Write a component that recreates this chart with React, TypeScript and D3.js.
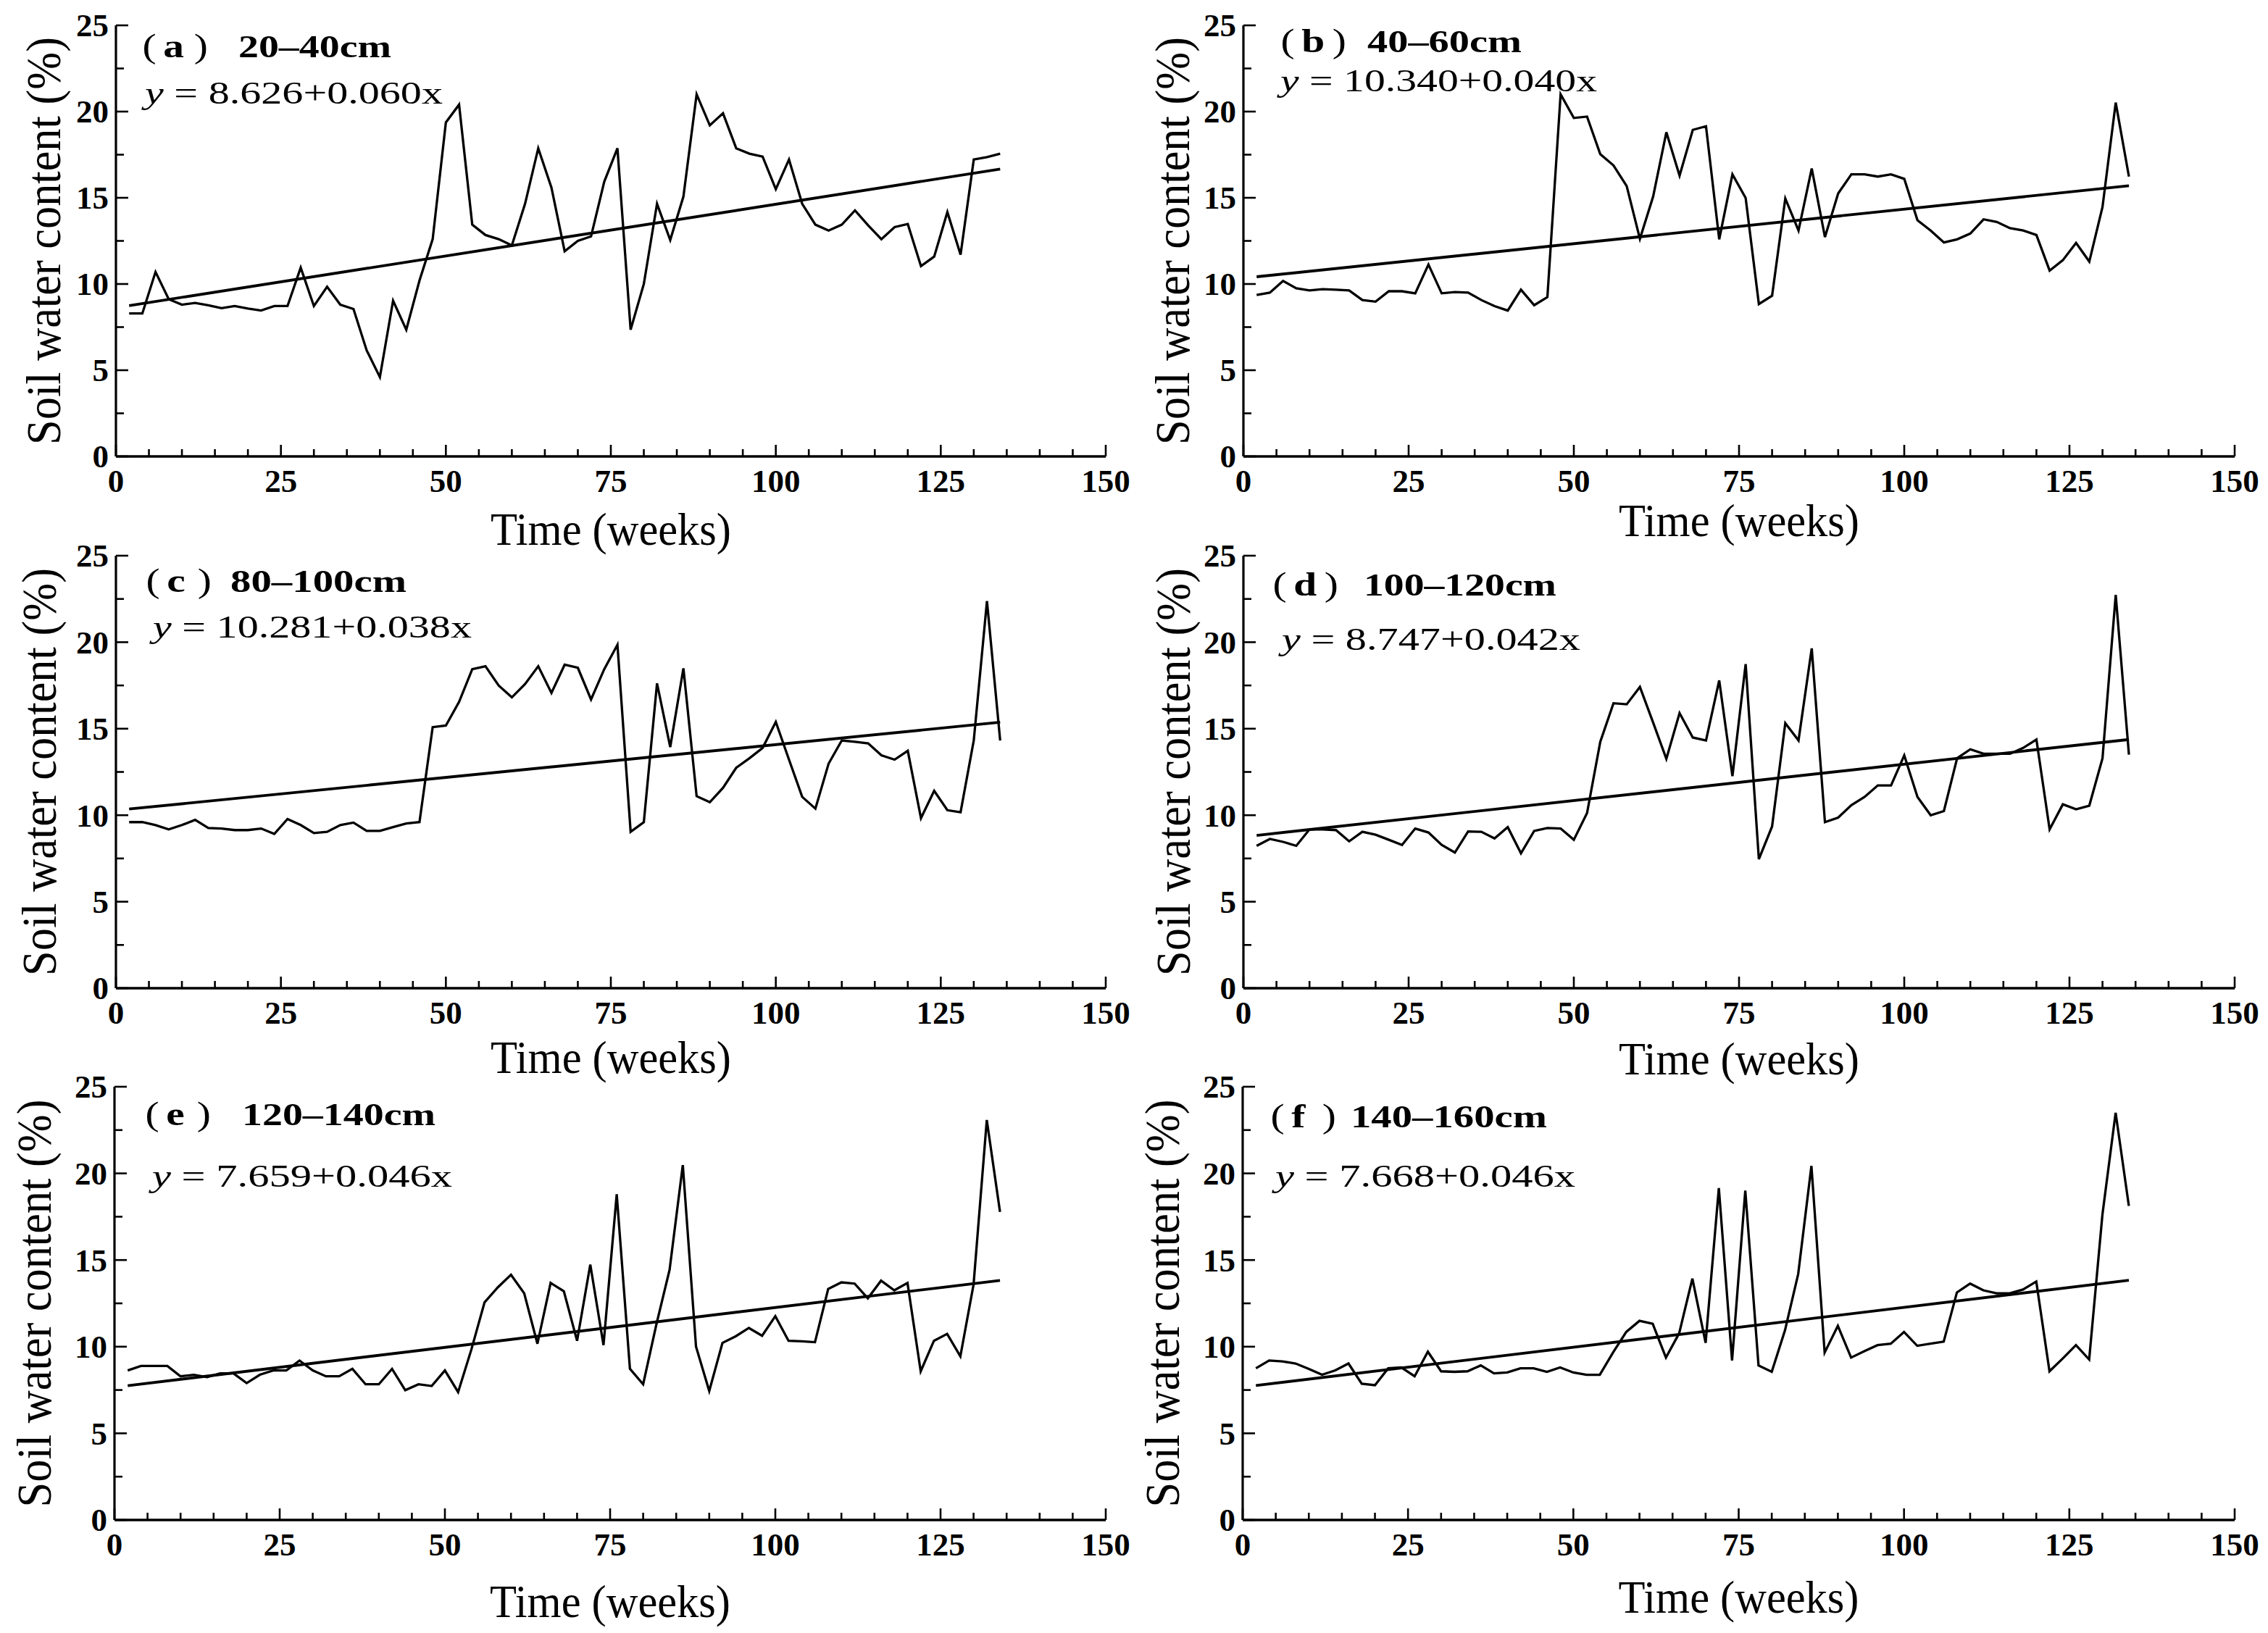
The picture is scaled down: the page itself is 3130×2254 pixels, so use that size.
import { useEffect } from 'react';
import * as d3 from 'd3';

// weekly sampling (weeks since start)
const weeks = [
  2, 4, 6, 8, 10, 12, 14, 16, 18, 20, 22, 24, 26, 28, 30, 32, 34, 36, 38, 40,
  42, 44, 46, 48, 50, 52, 54, 56, 58, 60, 62, 64, 66, 68, 70, 72, 74, 76, 78, 80,
  82, 84, 86, 88, 90, 92, 94, 96, 98, 100, 102, 104, 106, 108, 110, 112, 114, 116, 118, 120,
  122, 124, 126, 128, 130, 132, 134,
];

const swc20_40 = [
  8.29, 8.29, 10.7, 9.12, 8.8, 8.9, 8.77, 8.6, 8.72, 8.58, 8.46, 8.72, 8.72, 10.95, 8.72, 9.84, 8.8, 8.55, 6.15, 4.6,
  9.03, 7.35, 10.2, 12.6, 19.37, 20.4, 13.44, 12.84, 12.6, 12.24, 14.65, 17.87, 15.59, 11.9, 12.5, 12.76, 15.93, 17.87, 7.35, 10.0,
  14.65, 12.55, 15.07, 21.0, 19.2, 19.9, 17.87, 17.56, 17.39, 15.5, 17.22, 14.65, 13.44, 13.1, 13.44, 14.27, 13.4, 12.6, 13.3, 13.48,
  11.04, 11.59, 14.17, 11.7, 17.22, 17.36, 17.56,
];
const swc40_60 = [
  9.36, 9.5, 10.18, 9.75, 9.63, 9.7, 9.67, 9.63, 9.07, 8.98, 9.58, 9.58, 9.46, 11.13, 9.46, 9.53, 9.5, 9.07, 8.72, 8.46,
  9.67, 8.77, 9.24, 21.0, 19.63, 19.71, 17.53, 16.88, 15.68, 12.62, 15.07, 18.8, 16.28, 18.94, 19.15, 12.59, 16.36, 14.99, 8.84, 9.32,
  14.96, 13.1, 16.7, 12.72, 15.25, 16.36, 16.36, 16.23, 16.36, 16.1, 13.7, 13.1, 12.41, 12.59, 12.93, 13.75, 13.6, 13.24, 13.1, 12.84,
  10.78, 11.38, 12.38, 11.3, 14.47, 20.52, 16.23,
];
const swc80_100 = [
  9.6, 9.6, 9.43, 9.18, 9.43, 9.73, 9.26, 9.23, 9.14, 9.14, 9.23, 8.92, 9.78, 9.43, 8.97, 9.04, 9.43, 9.57, 9.09, 9.09,
  9.31, 9.52, 9.6, 15.09, 15.18, 16.55, 18.44, 18.61, 17.5, 16.81, 17.58, 18.61, 17.07, 18.7, 18.52, 16.69, 18.44, 19.85, 9.04, 9.6,
  17.62, 13.94, 18.49, 11.1, 10.75, 11.58, 12.74, 13.29, 13.89, 15.39, 13.21, 11.06, 10.38, 12.98, 14.32, 14.24, 14.15, 13.46, 13.21, 13.72,
  9.83, 11.41, 10.29, 10.17, 14.32, 22.38, 14.32,
];
const swc100_120 = [
  8.23, 8.63, 8.46, 8.23, 9.18, 9.18, 9.14, 8.49, 9.04, 8.87, 8.58, 8.28, 9.23, 9.0, 8.28, 7.84, 9.06, 9.04, 8.66, 9.31,
  7.8, 9.09, 9.26, 9.23, 8.58, 10.12, 14.24, 16.47, 16.41, 17.41, 15.35, 13.26, 15.9, 14.49, 14.32, 17.79, 12.26, 18.73, 7.46, 9.35,
  15.32, 14.32, 19.64, 9.6, 9.86, 10.58, 11.06, 11.72, 11.72, 13.46, 11.06, 10.0, 10.24, 13.29, 13.81, 13.55, 13.55, 13.55, 13.89, 14.37,
  9.18, 10.63, 10.34, 10.55, 13.29, 22.73, 13.5,
];
const swc120_140 = [
  8.63, 8.89, 8.89, 8.89, 8.29, 8.38, 8.24, 8.46, 8.46, 7.9, 8.38, 8.63, 8.63, 9.2, 8.63, 8.29, 8.29, 8.72, 7.83, 7.83,
  8.72, 7.49, 7.83, 7.73, 8.63, 7.38, 9.83, 12.56, 13.42, 14.15, 13.08, 10.17, 13.68, 13.2, 10.34, 14.74, 10.09, 18.8, 8.72, 7.83,
  11.28, 14.44, 20.48, 10.0, 7.44, 10.22, 10.6, 11.08, 10.63, 11.76, 10.34, 10.31, 10.26, 13.33, 13.71, 13.64, 12.79, 13.81, 13.25, 13.68,
  8.58, 10.34, 10.74, 9.44, 13.59, 23.08, 17.78,
];
const swc140_160 = [
  8.75, 9.2, 9.15, 9.03, 8.72, 8.38, 8.63, 9.03, 7.86, 7.78, 8.75, 8.8, 8.29, 9.71, 8.58, 8.55, 8.58, 8.92, 8.46, 8.51,
  8.75, 8.75, 8.55, 8.8, 8.51, 8.38, 8.38, 9.66, 10.85, 11.49, 11.32, 9.37, 10.77, 13.93, 10.22, 19.15, 9.2, 19.01, 8.92, 8.55,
  10.94, 14.19, 20.43, 9.66, 11.2, 9.37, 9.74, 10.09, 10.17, 10.85, 10.05, 10.17, 10.29, 13.13, 13.64, 13.25, 13.08, 13.08, 13.3, 13.76,
  8.58, 9.32, 10.09, 9.26, 17.61, 23.5, 18.12,
];

const series = [swc20_40, swc40_60, swc80_100, swc100_120, swc120_140, swc140_160];
const letters = ['a', 'b', 'c', 'd', 'e', 'f'];
const depths = ['20–40cm', '40–60cm', '80–100cm', '100–120cm', '120–140cm', '140–160cm'];
const intercepts = [8.626, 10.34, 10.281, 8.747, 7.659, 7.668];
const slopes = [0.06, 0.04, 0.038, 0.042, 0.046, 0.046];

const xTicks = [0, 25, 50, 75, 100, 125, 150];
const yTicks = [0, 5, 10, 15, 20, 25];

// pixel layout of each panel in the 3130x2254 figure
const frames = [
  { x0: 160, x1: 1526, top: 35, bot: 630, tp: 199, tn: 329, tw: 211, tb: 79, ex: 200, ew: 411, eb: 143, xl: 752, yl: 83 },
  { x0: 1716, x1: 3084, top: 35, bot: 630, tp: 1770, tn: 1887, tw: 213, tb: 72, ex: 1767, ew: 437, eb: 126, xl: 740, yl: 1641 },
  { x0: 160, x1: 1526, top: 767, bot: 1364, tp: 204, tn: 318, tw: 243, tb: 817, ex: 211, ew: 440, eb: 880, xl: 1481, yl: 77 },
  { x0: 1716, x1: 3084, top: 767, bot: 1364, tp: 1759, tn: 1882, tw: 266, tb: 822, ex: 1769, ew: 412, eb: 897, xl: 1483, yl: 1642 },
  { x0: 158, x1: 1526, top: 1500, bot: 2098, tp: 203, tn: 334, tw: 267, tb: 1553, ex: 210, ew: 414, eb: 1638, xl: 2232, yl: 70 },
  { x0: 1715, x1: 3084, top: 1500, bot: 2098, tp: 1756, tn: 1864, tw: 271, tb: 1556, ex: 1760, ew: 414, eb: 1638, xl: 2226, yl: 1627 },
];

const FONT = "'Liberation Serif', 'Times New Roman', serif";

function Panel({ i }: { i: number }) {
  const f = frames[i];
  const values = series[i];
  const x = d3.scaleLinear().domain([0, 150]).range([f.x0, f.x1]);
  const y = d3.scaleLinear().domain([0, 25]).range([f.bot, f.top]);

  const line = d3.line<number>()
    .x((_, j) => x(weeks[j]))
    .y(d => y(d));

  const fitX = [weeks[0], weeks[weeks.length - 1]];
  const fitLine = d3.line<number>()
    .x(d => x(d))
    .y(d => y(intercepts[i] + slopes[i] * d));

  const xMinor = d3.range(0, 151, 5).filter(v => v % 25 !== 0);
  const yMinor = d3.range(2.5, 25, 5);
  const cx = (f.x0 + f.x1) / 2;
  const cy = (f.top + f.bot) / 2;

  return (
    <g>
      {/* axes */}
      <line x1={f.x0} x2={f.x0} y1={f.bot} y2={f.top} stroke="#000" strokeWidth={3.2} />
      <line x1={f.x0} x2={f.x1} y1={f.bot} y2={f.bot} stroke="#000" strokeWidth={3.6} />
      {xTicks.map(t => (
        <line key={'xt' + t} x1={x(t)} x2={x(t)} y1={f.bot} y2={f.bot - 16} stroke="#000" strokeWidth={2.6} />
      ))}
      {xMinor.map(t => (
        <line key={'xm' + t} x1={x(t)} x2={x(t)} y1={f.bot} y2={f.bot - 10} stroke="#000" strokeWidth={2.6} />
      ))}
      {yTicks.map(t => (
        <line key={'yt' + t} x1={f.x0} x2={f.x0 + 17} y1={y(t)} y2={y(t)} stroke="#000" strokeWidth={2.6} />
      ))}
      {yMinor.map(t => (
        <line key={'ym' + t} x1={f.x0} x2={f.x0 + 11} y1={y(t)} y2={y(t)} stroke="#000" strokeWidth={2.6} />
      ))}

      {/* tick labels */}
      {xTicks.map(t => (
        <text key={'xl' + t} x={x(t)} y={f.bot + 49} textAnchor="middle" fontFamily={FONT} fontWeight="bold" fontSize={45}>{t}</text>
      ))}
      {yTicks.map(t => (
        <text key={'yl' + t} x={f.x0 - 10} y={y(t)} dy="0.34em" textAnchor="end" fontFamily={FONT} fontWeight="bold" fontSize={45}>{t}</text>
      ))}

      {/* data and linear fit */}
      <path d={line(values) ?? ''} fill="none" stroke="#000" strokeWidth={3.3} strokeLinejoin="miter" />
      <path d={fitLine(fitX) ?? ''} fill="none" stroke="#000" strokeWidth={3.9} />

      {/* panel title */}
      <g transform={`translate(${f.tp},${f.tb}) scale(1.25,1)`} fontFamily={FONT} fontSize={46}>
        <text x={-2} y={0}>(</text>
        <text x={21} y={0} fontWeight="bold">{letters[i]}</text>
        <text x={55} y={0}>)</text>
      </g>
      <text x={f.tn} y={f.tb} fontFamily={FONT} fontWeight="bold" fontSize={44} textLength={f.tw} lengthAdjust="spacingAndGlyphs">{depths[i]}</text>

      {/* regression equation */}
      <text x={f.ex} y={f.eb} fontFamily={FONT} fontSize={45} textLength={f.ew} lengthAdjust="spacingAndGlyphs">
        <tspan fontStyle="italic">y</tspan>
        <tspan>{` = ${intercepts[i].toFixed(3)}+${slopes[i].toFixed(3)}x`}</tspan>
      </text>

      {/* axis titles */}
      <text x={cx} y={f.xl} textAnchor="middle" fontFamily={FONT} fontSize={64} textLength={332} lengthAdjust="spacingAndGlyphs">Time (weeks)</text>
      <text transform={`translate(${f.yl},${cy}) rotate(-90)`} textAnchor="middle" fontFamily={FONT} fontSize={68} textLength={563} lengthAdjust="spacingAndGlyphs">Soil water content (%)</text>
    </g>
  );
}

export default function App() {
  useEffect(() => {
    document.body.style.margin = '0';
  }, []);

  return (
    <svg width={3130} height={2254} viewBox="0 0 3130 2254" style={{ display: 'block', background: '#fff' }}>
      <rect width={3130} height={2254} fill="#fff" />
      {frames.map((_, i) => (
        <Panel key={i} i={i} />
      ))}
    </svg>
  );
}
